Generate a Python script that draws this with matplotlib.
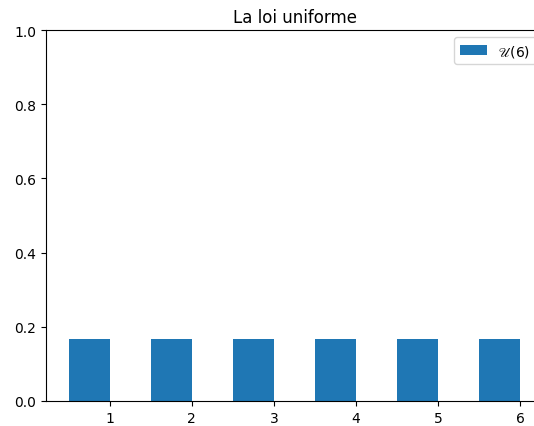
import numpy as np
import matplotlib.pyplot as plt

plt.rcParams['mathtext.fontset'] = 'stix'

# Loi uniforme sur {1, ..., 6}
valeurs = np.array([1, 2, 3, 4, 5, 6])
probas = np.array([1/6, 1/6, 1/6, 1/6, 1/6, 1/6])

fig = plt.figure(figsize=(5.34, 4.27), dpi=100)
# the original figure was cropped on the right, so the axes run past the edge
ax = fig.add_axes([46 / 534, 25 / 427, 497 / 534, 371 / 427])

ax.bar(valeurs, probas, width=-0.5, align='edge', color='#1f77b4', label=r'$\mathscr{U}$(6)')
ax.set_xlim(0.225, 6.275)
ax.set_ylim(0, 1)
ax.set_xticks(valeurs)
ax.set_title('La loi uniforme')
ax.legend(loc='upper right')

fig.savefig('out.png', dpi=100)
